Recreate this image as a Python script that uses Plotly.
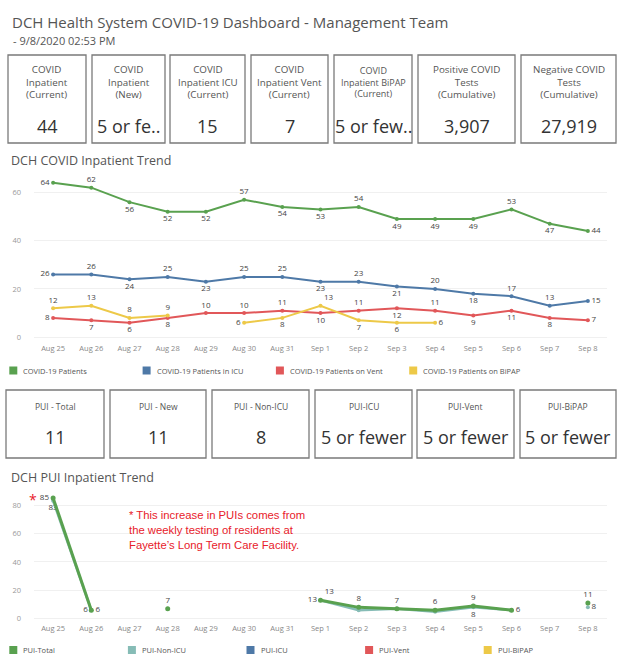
import plotly.graph_objects as go

W, H = 624, 665

# ---------------- data ----------------
dates = ["Aug 25", "Aug 26", "Aug 27", "Aug 28", "Aug 29", "Aug 30", "Aug 31",
         "Sep 1", "Sep 2", "Sep 3", "Sep 4", "Sep 5", "Sep 6", "Sep 7", "Sep 8"]

covid_patients = [64, 62, 56, 52, 52, 57, 54, 53, 54, 49, 49, 49, 53, 47, 44]
covid_icu = [26, 26, 24, 25, 23, 25, 25, 23, 23, 21, 20, 18, 17, 13, 15]
covid_vent = [8, 7, 6, 8, 10, 10, 11, 10, 11, 12, 11, 9, 11, 8, 7]
covid_bipap = [12, 13, 8, 9, None, 6, 8, 13, 7, 6, 6, None, None, None, None]

pui_total = [85, 6, None, 7, None, None, None, 13, 8, 7, 6, 9, 6, None, 11]
pui_non_icu = [83, 6, None, None, None, None, None, 13, 6, 7, 5, 8, 6, None, 8]

series1_names = ["COVID-19 Patients", "COVID-19 Patients in ICU",
                 "COVID-19 Patients on Vent", "COVID-19 Patients on BiPAP"]
series2_names = ["PUI-Total", "PUI-Non-ICU", "PUI-ICU", "PUI-Vent", "PUI-BiPAP"]

kpi1_labels = ["COVID<br>Inpatient<br>(Current)", "COVID<br>Inpatient<br>(New)",
               "COVID<br>Inpatient ICU<br>(Current)", "COVID<br>Inpatient Vent<br>(Current)",
               "COVID<br>Inpatient BiPAP<br>(Current)", "Positive COVID<br>Tests<br>(Cumulative)",
               "Negative COVID<br>Tests<br>(Cumulative)"]
kpi1_values = ["44", "5 or fe..", "15", "7", "5 or few..", "3,907", "27,919"]

kpi2_labels = ["PUI - Total", "PUI - New", "PUI - Non-ICU", "PUI-ICU", "PUI-Vent", "PUI-BiPAP"]
kpi2_values = ["11", "11", "8", "5 or fewer", "5 or fewer", "5 or fewer"]

note_lines = ["* This increase in PUIs comes from",
              "the weekly testing of residents at",
              "Fayette\u2019s Long Term Care Facility."]

# ---------------- styles ----------------
GREEN, BLUE, RED, YELLOW, TEAL = "#59a14f", "#4e79a7", "#e15759", "#edc948", "#86bcb6"
colors1 = [GREEN, BLUE, RED, YELLOW]
colors2 = [GREEN, TEAL, BLUE, RED, YELLOW]
FONT = "Open Sans, Noto Sans, DejaVu Sans, sans-serif"
NOTE_FONT = "Liberation Sans, Arial, sans-serif"
TXT = "#555555"
LBL = "#444444"


def X(px):
    return px / W


def Y(py):
    return 1 - py / H


# label positions (Tableau-style above / below)
pos_pat = ["middle left", "top center", "bottom center", "bottom center", "bottom center",
           "top center", "bottom center", "bottom center", "top center", "bottom center",
           "bottom center", "bottom center", "top center", "bottom center", "middle right"]
pos_icu = ["middle left", "top center", "bottom center", "top center", "bottom center",
           "top center", "top center", "bottom center", "top center", "bottom center",
           "top center", "bottom center", "top center", "top center", "middle right"]
pos_vent = ["middle left", "bottom center", "bottom center", "bottom center", "top center",
            "top center", "top center", "bottom center", "top center", "bottom center",
            "top center", "bottom center", "bottom center", "bottom center", "middle right"]
pos_bip = ["top center", "top center", "top center", "top center", "top center",
           "middle left", "bottom center", "top right", "bottom center", "bottom center",
           "middle right", "top center", "top center", "top center", "top center"]

fig = go.Figure()


def txt(vals):
    return ["" if v is None else str(v) for v in vals]


for vals, col, pos in [(covid_patients, GREEN, pos_pat), (covid_icu, BLUE, pos_icu),
                       (covid_vent, RED, pos_vent), (covid_bipap, YELLOW, pos_bip)]:
    fig.add_trace(go.Scatter(
        x=dates, y=vals, mode="lines+markers+text", text=txt(vals), textposition=pos,
        line=dict(color=col, width=2), marker=dict(color=col, size=4),
        textfont=dict(family=FONT, size=8, color=LBL), cliponaxis=False,
        connectgaps=False, showlegend=False, hoverinfo="skip", xaxis="x", yaxis="y"))

# PUI chart
t_non = ["83", "6", "", "", "", "", "", "13", "", "", "", "8", "", "", "8"]
p_non = ["bottom center", "middle left", "top center", "top center", "top center", "top center",
         "top center", "middle left", "top center", "top center", "top center", "bottom center",
         "top center", "top center", "middle right"]
fig.add_trace(go.Scatter(
    x=dates, y=pui_non_icu, mode="lines+markers+text", text=t_non, textposition=p_non,
    line=dict(color=TEAL, width=2.5), marker=dict(color=TEAL, size=4),
    textfont=dict(family=FONT, size=8, color=LBL), cliponaxis=False,
    connectgaps=False, showlegend=False, hoverinfo="skip", xaxis="x2", yaxis="y2"))
p_tot = ["middle left", "middle right", "top center", "top center", "top center", "top center",
         "top center", "top right", "top center", "top center", "top center", "top center",
         "middle right", "top center", "top center"]
fig.add_trace(go.Scatter(
    x=dates, y=pui_total, mode="lines+markers+text", text=txt(pui_total), textposition=p_tot,
    line=dict(color=GREEN, width=3), marker=dict(color=GREEN, size=5),
    textfont=dict(family=FONT, size=8, color=LBL), cliponaxis=False,
    connectgaps=False, showlegend=False, hoverinfo="skip", xaxis="x2", yaxis="y2"))

shapes = []
annos = []

# titles
annos.append(dict(x=X(10), y=Y(22), xref="paper", yref="paper", xanchor="left", yanchor="middle",
                  text="DCH Health System COVID-19 Dashboard - Management Team", showarrow=False,
                  font=dict(family=FONT, size=15, color=TXT)))
annos.append(dict(x=X(11), y=Y(41), xref="paper", yref="paper", xanchor="left", yanchor="middle",
                  text="- 9/8/2020 02:53 PM", showarrow=False,
                  font=dict(family=FONT, size=11, color=TXT)))
annos.append(dict(x=X(9), y=Y(161), xref="paper", yref="paper", xanchor="left", yanchor="middle",
                  text="DCH COVID Inpatient Trend", showarrow=False,
                  font=dict(family=FONT, size=12.5, color=TXT)))
annos.append(dict(x=X(9), y=Y(477), xref="paper", yref="paper", xanchor="left", yanchor="middle",
                  text="DCH PUI Inpatient Trend", showarrow=False,
                  font=dict(family=FONT, size=12.5, color=TXT)))

# KPI boxes row 1
box1 = [(8, 86), (92, 165), (170, 245), (251, 328), (334, 412), (418, 515), (521, 616)]
for (x0, x1), lab, val in zip(box1, kpi1_labels, kpi1_values):
    shapes.append(dict(type="rect", xref="paper", yref="paper", x0=X(x0), x1=X(x1),
                       y0=Y(143), y1=Y(55), line=dict(color="#7a7a7a", width=1.3)))
    fs = 9 if "BiPAP" in lab else 9.8
    annos.append(dict(x=X((x0 + x1) / 2), y=Y(82), xref="paper", yref="paper",
                      xanchor="center", yanchor="middle", text=lab, showarrow=False,
                      font=dict(family=FONT, size=fs, color=TXT)))
    annos.append(dict(x=X((x0 + x1) / 2), y=Y(126), xref="paper", yref="paper",
                      xanchor="center", yanchor="middle", text=val, showarrow=False,
                      font=dict(family=FONT, size=18, color="#333333")))

# KPI boxes row 2
box2 = [(6, 104), (110, 206), (212, 309), (315, 412), (417, 514), (520, 616)]
for (x0, x1), lab, val in zip(box2, kpi2_labels, kpi2_values):
    shapes.append(dict(type="rect", xref="paper", yref="paper", x0=X(x0), x1=X(x1),
                       y0=Y(458), y1=Y(390), line=dict(color="#7a7a7a", width=1.3)))
    annos.append(dict(x=X((x0 + x1) / 2), y=Y(406), xref="paper", yref="paper",
                      xanchor="center", yanchor="middle", text=lab, showarrow=False,
                      font=dict(family=FONT, size=8.5, color=TXT)))
    annos.append(dict(x=X((x0 + x1) / 2), y=Y(437), xref="paper", yref="paper",
                      xanchor="center", yanchor="middle", text=val, showarrow=False,
                      font=dict(family=FONT, size=18, color="#333333")))

# legends
for i, (name, col) in enumerate(zip(series1_names, colors1)):
    lx = 9.3 + 133.3 * i
    shapes.append(dict(type="rect", xref="paper", yref="paper", x0=X(lx), x1=X(lx + 8),
                       y0=Y(374.5), y1=Y(366.5), fillcolor=col, line=dict(width=0)))
    annos.append(dict(x=X(lx + 12), y=Y(370.5), xref="paper", yref="paper", xanchor="left",
                      yanchor="middle", text=name, showarrow=False,
                      font=dict(family=FONT, size=7.5, color=TXT)))
for i, (name, col) in enumerate(zip(series2_names, colors2)):
    lx = 9.3 + 118.6 * i
    shapes.append(dict(type="rect", xref="paper", yref="paper", x0=X(lx), x1=X(lx + 8),
                       y0=Y(654), y1=Y(646), fillcolor=col, line=dict(width=0)))
    annos.append(dict(x=X(lx + 12), y=Y(650), xref="paper", yref="paper", xanchor="left",
                      yanchor="middle", text=name, showarrow=False,
                      font=dict(family=FONT, size=7.5, color=TXT)))

# note
for i, line in enumerate(note_lines):
    annos.append(dict(x=X(127), y=Y(515 + 14.8 * i), xref="paper", yref="paper", xanchor="left",
                      yanchor="middle", text=line, showarrow=False,
                      font=dict(family=NOTE_FONT, size=11.3, color="#e8202a")))
annos.append(dict(x=X(33), y=Y(499), xref="paper", yref="paper", xanchor="center",
                  yanchor="middle", text="*", showarrow=False,
                  font=dict(family=FONT, size=14, color="#e8202a")))

axis_common = dict(type="category", range=[-0.5, 14.5], showgrid=False, zeroline=False,
                   showline=False, ticks="", tickfont=dict(family=FONT, size=7.5, color="#888888"),
                   fixedrange=True)
yaxis_common = dict(showgrid=True, gridcolor="#f0f0f0", gridwidth=1, zeroline=False,
                    showline=False, ticks="", ticklabelstandoff=12,
                    tickfont=dict(family=FONT, size=7.5, color="#999999"), fixedrange=True)

fig.update_layout(
    width=W, height=H, margin=dict(l=0, r=0, t=0, b=0),
    paper_bgcolor="white", plot_bgcolor="white", showlegend=False, hovermode=False,
    xaxis=dict(domain=[X(34), X(607)], anchor="y", **axis_common),
    yaxis=dict(domain=[Y(342), Y(172)], range=[-2, 68.5], tickvals=[0, 20, 40, 60],
               anchor="x", **yaxis_common),
    xaxis2=dict(domain=[X(34), X(607)], anchor="y2", **axis_common),
    yaxis2=dict(domain=[Y(622), Y(490)], range=[-2.3, 90.6], tickvals=[0, 20, 40, 60, 80],
                anchor="x2", **yaxis_common),
    shapes=shapes, annotations=annos,
)

fig.write_html("out.html", config={"displayModeBar": False},
               post_script="document.body.style.margin='0';document.body.style.overflow='hidden';")
